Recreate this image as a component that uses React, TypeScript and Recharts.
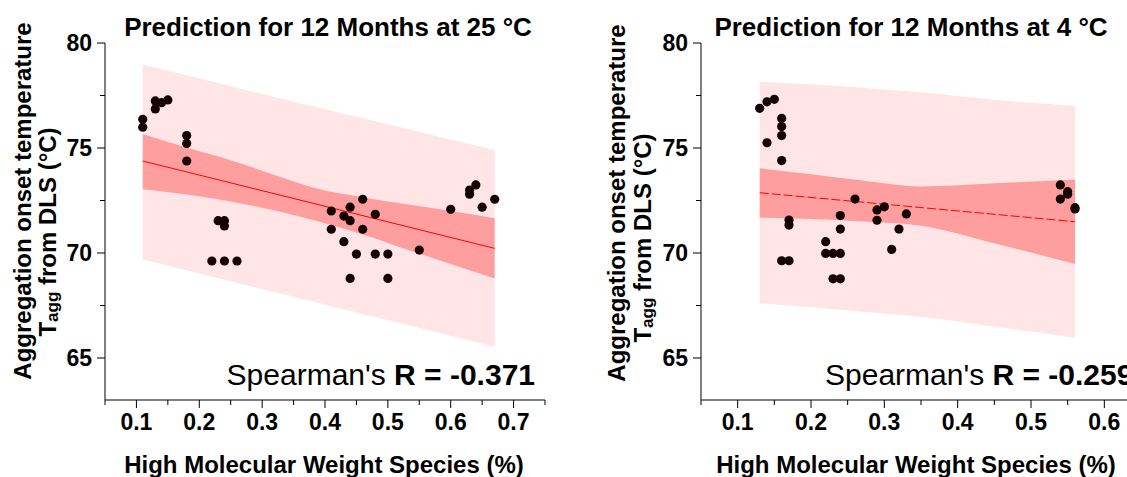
import { Area, ComposedChart, Line, Scatter, XAxis, YAxis } from "recharts";

const FONT = "'Liberation Sans', Arial, Helvetica, sans-serif";

// ---- 12 months at 25 °C ----
const hmw25 = [
  0.11, 0.11, 0.13, 0.13, 0.14, 0.15, 0.18, 0.18, 0.18, 0.23, 0.24, 0.24, 0.22,
  0.24, 0.26, 0.41, 0.41, 0.43, 0.43, 0.44, 0.44, 0.44, 0.45, 0.46, 0.46, 0.48,
  0.48, 0.5, 0.5, 0.55, 0.6, 0.63, 0.63, 0.64, 0.65, 0.67,
];
const tagg25 = [
  76.37, 75.99, 77.24, 76.86, 77.16, 77.29, 75.59, 75.22, 74.38, 71.54, 71.54,
  71.29, 69.62, 69.62, 69.62, 72.0, 71.13, 71.76, 70.54, 72.18, 71.54, 68.79,
  69.95, 72.56, 71.13, 71.84, 69.95, 69.95, 68.79, 70.14, 72.08, 73.0, 72.8,
  73.24, 72.18, 72.56,
];
const band25X = [0.11, 0.18, 0.25, 0.32, 0.39, 0.46, 0.53, 0.6, 0.67];
const ci25Low = [73.03, 72.78, 72.45, 72.02, 71.5, 70.88, 70.17, 69.48, 68.79];
const ci25High = [75.67, 75.02, 74.42, 73.72, 73.05, 72.66, 72.32, 72.0, 71.66];
const pi25Low = [69.7, 69.18, 68.66, 68.14, 67.62, 67.1, 66.58, 66.06, 65.54];
const pi25High = [78.98, 78.46, 77.94, 77.42, 76.92, 76.42, 75.92, 75.4, 74.9];
const fit25X = [0.11, 0.67];
const fit25Y = [74.38, 70.22];

// ---- 12 months at 4 °C ----
const hmw4 = [
  0.13, 0.14, 0.15, 0.14, 0.16, 0.16, 0.16, 0.16, 0.17, 0.17, 0.16, 0.17, 0.22,
  0.22, 0.23, 0.24, 0.23, 0.24, 0.24, 0.24, 0.26, 0.29, 0.29, 0.3, 0.31, 0.32,
  0.33, 0.54, 0.54, 0.55, 0.55, 0.56, 0.56,
];
const tagg4 = [
  76.89, 77.2, 77.32, 75.25, 76.41, 76.02, 75.59, 74.4, 71.57, 71.33, 69.63,
  69.63, 70.54, 69.98, 69.98, 69.98, 68.77, 68.77, 71.78, 71.14, 72.57, 72.05,
  71.56, 72.2, 70.17, 71.14, 71.86, 73.24, 72.57, 72.92, 72.8, 72.16, 72.1,
];
const band4X = [0.13, 0.2, 0.27, 0.35, 0.45, 0.56];
const ci4Low = [71.68, 71.62, 71.5, 71.3, 70.46, 69.48];
const ci4High = [74.04, 73.75, 73.45, 73.17, 73.32, 73.5];
const pi4Low = [67.6, 67.42, 67.2, 66.95, 66.5, 65.97];
const pi4High = [78.16, 78.03, 77.87, 77.65, 77.3, 77.0];
const fit4X = [0.13, 0.56];
const fit4Y = [72.87, 71.49];

const xTicks25 = [
  0.05, 0.1, 0.15, 0.2, 0.25, 0.3, 0.35, 0.4, 0.45, 0.5, 0.55, 0.6, 0.65, 0.7,
  0.75,
];
const xTicks4 = [
  0.05, 0.1, 0.15, 0.2, 0.25, 0.3, 0.35, 0.4, 0.45, 0.5, 0.55, 0.6, 0.65,
];
const yTicks = [65, 67.5, 70, 72.5, 75, 77.5, 80];

function XTick({ x, y, payload }: any) {
  const v = payload.value as number;
  const major = Math.round(v * 100) % 10 === 0;
  return (
    <g>
      <line x1={x} y1={y} x2={x} y2={y + (major ? 8 : 5)} stroke="#000" />
      {major && (
        <text
          x={x}
          y={y + 30}
          textAnchor="middle"
          fontFamily={FONT}
          fontWeight="bold"
          fontSize={23}
          fill="#000"
        >
          {v.toFixed(1)}
        </text>
      )}
    </g>
  );
}

function YTick({ x, y, payload }: any) {
  const v = payload.value as number;
  const major = v % 5 === 0;
  return (
    <g>
      <line x1={x - (major ? 8 : 5)} y1={y} x2={x} y2={y} stroke="#000" />
      {major && (
        <text
          x={x - 13}
          y={y + 8}
          textAnchor="end"
          fontFamily={FONT}
          fontWeight="bold"
          fontSize={23}
          fill="#000"
        >
          {v}
        </text>
      )}
    </g>
  );
}

type PanelProps = {
  xs: number[];
  ys: number[];
  bandX: number[];
  ciLow: number[];
  ciHigh: number[];
  piLow: number[];
  piHigh: number[];
  fitX: number[];
  fitY: number[];
  xMax: number;
  xTicks: number[];
  dashed?: boolean;
};

function Panel(p: PanelProps) {
  const band = p.bandX.map((x, i) => ({
    x,
    ci: [p.ciLow[i], p.ciHigh[i]],
    pi: [p.piLow[i], p.piHigh[i]],
  }));
  const points = p.xs.map((x, i) => ({ x, y: p.ys[i] }));
  const fit = p.fitX.map((x, i) => ({ x, y: p.fitY[i] }));

  return (
    <ComposedChart
      width={560}
      height={477}
      data={band}
      margin={{ top: 43, right: 15, bottom: 37, left: 45 }}
    >
      <XAxis
        dataKey="x"
        type="number"
        domain={[0.05, p.xMax]}
        ticks={p.xTicks}
        interval={0}
        tickSize={0}
        tickMargin={0}
        tick={<XTick />}
        height={40}
        axisLine={{ stroke: "#000" }}
      />
      <XAxis
        xAxisId="top"
        orientation="top"
        type="number"
        domain={[0.05, p.xMax]}
        tick={false}
        tickLine={false}
        height={0}
        axisLine={{ stroke: "#000" }}
      />
      <YAxis
        type="number"
        domain={[63, 80]}
        ticks={yTicks}
        interval={0}
        tickSize={0}
        tickMargin={0}
        tick={<YTick />}
        width={60}
        allowDataOverflow
        axisLine={{ stroke: "#000" }}
      />
      <YAxis
        yAxisId="right"
        orientation="right"
        type="number"
        domain={[63, 80]}
        tick={false}
        tickLine={false}
        width={0}
        axisLine={{ stroke: "#000" }}
      />
      <Scatter
        data={points}
        dataKey="y"
        isAnimationActive={false}
        shape={(s: any) => <circle cx={s.cx} cy={s.cy} r={4.6} fill="#140000" />}
      />
      <Area
        dataKey="pi"
        type="monotone"
        stroke="none"
        fill="#ff0000"
        fillOpacity={0.1}
        isAnimationActive={false}
      />
      <Area
        dataKey="ci"
        type="monotone"
        stroke="none"
        fill="#ff0000"
        fillOpacity={0.31}
        isAnimationActive={false}
      />
      <Line
        data={fit}
        dataKey="y"
        type="linear"
        stroke="#ff0000"
        strokeWidth={1}
        strokeDasharray={p.dashed ? "9 3" : undefined}
        dot={false}
        activeDot={false}
        isAnimationActive={false}
      />
    </ComposedChart>
  );
}

const bold = { fontFamily: FONT, fontWeight: "bold" as const, fill: "#000" };

function YTitle({ x1, y1, x2, y2 }: { x1: number; y1: number; x2: number; y2: number }) {
  return (
    <g>
      <text
        x={x1}
        y={y1}
        transform={`rotate(-90 ${x1} ${y1})`}
        textAnchor="middle"
        dominantBaseline="central"
        fontSize={24}
        {...bold}
      >
        Aggregation onset temperature
      </text>
      <text
        x={x2}
        y={y2}
        transform={`rotate(-90 ${x2} ${y2})`}
        textAnchor="middle"
        dominantBaseline="central"
        fontSize={24}
        {...bold}
      >
        T
        <tspan fontSize={17} dy={5}>
          agg
        </tspan>
        <tspan dy={-5}> from DLS (°C)</tspan>
      </text>
    </g>
  );
}

export default function App() {
  return (
    <div
      style={{
        position: "fixed",
        left: 0,
        top: 0,
        width: 1127,
        height: 477,
        overflow: "hidden",
        background: "#fff",
      }}
    >
      <div style={{ position: "absolute", left: 0, top: 0 }}>
        <Panel
          xs={hmw25}
          ys={tagg25}
          bandX={band25X}
          ciLow={ci25Low}
          ciHigh={ci25High}
          piLow={pi25Low}
          piHigh={pi25High}
          fitX={fit25X}
          fitY={fit25Y}
          xMax={0.75}
          xTicks={xTicks25}
        />
      </div>
      <div style={{ position: "absolute", left: 596, top: 0 }}>
        <Panel
          xs={hmw4}
          ys={tagg4}
          bandX={band4X}
          ciLow={ci4Low}
          ciHigh={ci4High}
          piLow={pi4Low}
          piHigh={pi4High}
          fitX={fit4X}
          fitY={fit4Y}
          xMax={0.65}
          xTicks={xTicks4}
          dashed
        />
      </div>
      <svg
        width={1127}
        height={477}
        style={{ position: "absolute", left: 0, top: 0, pointerEvents: "none" }}
      >
        <text x={328} y={36} textAnchor="middle" fontSize={26} {...bold}>
          Prediction for 12 Months at 25 °C
        </text>
        <text x={911} y={36} textAnchor="middle" fontSize={26} {...bold}>
          Prediction for 12 Months at 4 °C
        </text>
        <text x={324} y={473} textAnchor="middle" fontSize={24} {...bold}>
          High Molecular Weight Species (%)
        </text>
        <text x={916} y={473} textAnchor="middle" fontSize={24} {...bold}>
          High Molecular Weight Species (%)
        </text>
        <YTitle x1={22} y1={201} x2={47} y2={232} />
        <YTitle x1={616} y1={203} x2={642} y2={238} />
        <text x={535} y={385} textAnchor="end" fontSize={30} fontFamily={FONT} fill="#000">
          Spearman's <tspan fontWeight="bold">R = -0.371</tspan>
        </text>
        <text x={825} y={385} textAnchor="start" fontSize={30} fontFamily={FONT} fill="#000">
          Spearman's <tspan fontWeight="bold">R = -0.259</tspan>
        </text>
      </svg>
    </div>
  );
}
